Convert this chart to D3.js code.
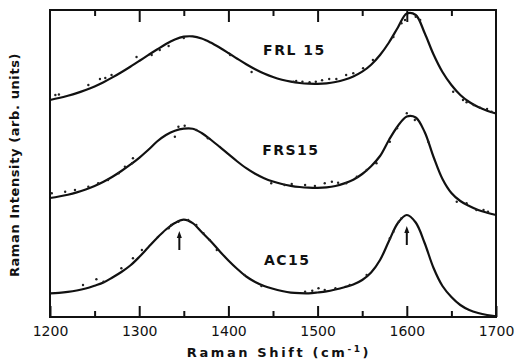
<!DOCTYPE html>
<html>
<head>
<meta charset="utf-8">
<script src="https://cdn.jsdelivr.net/npm/d3@7"></script>
<style>
  body { margin: 0; background: #fff; }
  svg { display: block; }
  text { font-family: "DejaVu Sans", sans-serif; font-weight: bold; fill: #111; }
</style>
</head>
<body>
<script>
//raman shift sample positions (cm-1)
var shift = [1200, 1210, 1220, 1230, 1240, 1250, 1260, 1270, 1280, 1290,
             1300, 1310, 1320, 1330, 1340, 1350, 1360, 1370, 1380, 1390,
             1400, 1410, 1420, 1430, 1440, 1450, 1460, 1470, 1480, 1490,
             1500, 1510, 1520, 1530, 1540, 1550, 1560, 1570, 1580, 1590,
             1600, 1610, 1620, 1630, 1640, 1650, 1660, 1670, 1680, 1690, 1700];

//fitted curves, intensity in arb. units (spectra stacked with offsets)
var frl15 = [217, 219, 221.3, 223.9, 227, 230.6, 234.8, 239.6, 244.8, 250.3,
             256, 261.8, 267.5, 273, 277.5, 280.3, 280.6, 278.5, 274.5, 269.5,
             264, 258.3, 252.8, 247.8, 243.5, 240, 237.3, 235.3, 234, 233.3,
             233.2, 233.7, 235, 237.2, 240.5, 245.3, 252.3, 262, 274.5, 289.5,
             303.5, 302, 284, 262.5, 245, 232, 222, 215, 210, 206.3, 203.5];
var frs15 = [119, 120.5, 122.3, 124.6, 127.5, 131, 135.2, 140.2, 146, 152.3,
             159.2, 167, 175.5, 182, 186.3, 188.3, 188.2, 184, 177.5, 170.3,
             162.8, 155.5, 148.8, 143.2, 138.8, 135.5, 133, 131.2, 130, 129.3,
             129.1, 129.6, 131, 133.6, 137.3, 143, 150.8, 161, 177, 191,
             200.5, 199.5, 185, 160, 138, 124, 116, 111, 107, 104.3, 102];
var ac15 = [23.7, 24.2, 25.1, 26.5, 28.5, 31.3, 34.5, 39.5, 45, 51.5,
            60, 69.5, 79, 87.5, 94, 97.3, 93.8, 85, 76, 66,
            56.5, 48, 40.5, 35, 31, 28.2, 26, 24.4, 23.8, 23.7,
            24.5, 25.6, 27.5, 29.8, 32.5, 37, 44.5, 57, 76, 94,
            102, 94.5, 74, 49, 31, 20, 12, 7, 4, 2, 0.7];

//measured points [shift, intensity]
var frl15Dots = [[1206, 222], [1210, 222.5], [1243, 232], [1256, 238], [1262, 239], [1269, 242],
                 [1297, 260], [1314, 262], [1323, 267], [1333, 271], [1350, 279],
                 [1402, 262], [1426, 245], [1473, 235.3], [1476, 236], [1483, 235.3],
                 [1491, 234.7], [1498, 235.3], [1505, 236.7], [1513, 238], [1521, 238],
                 [1532, 242], [1540, 243.7], [1551, 248.7], [1562, 257], [1585, 280],
                 [1594, 293.7], [1598, 297], [1610, 300.3], [1615, 297],
                 [1652, 225.3], [1663, 217], [1667, 214.7], [1675, 212], [1682, 209.3],
                 [1690, 208], [1695, 205.3]];
var frs15Dots = [[1202, 123.7], [1217, 125.3], [1228, 127], [1243, 130.3], [1254, 133.7],
                 [1265, 137], [1277, 143.7], [1284, 150.3], [1292, 153.7], [1293, 158.7],
                 [1340, 180.3], [1344, 190.3], [1351, 191.3], [1364, 187], [1377, 178.7],
                 [1448, 133.7], [1463, 132], [1471, 133], [1486, 132], [1497, 131],
                 [1508, 133.7], [1516, 135.3], [1523, 134.3], [1532, 133.7], [1544, 140.3],
                 [1555, 147], [1566, 153.7], [1581, 175.3], [1589, 188.7], [1600, 203.7],
                 [1609, 197], [1624, 175.3], [1656, 115.3], [1667, 113.7], [1678, 107],
                 [1686, 107], [1691, 105.3]];
var ac15Dots = [[1237, 32], [1252, 37.7], [1260, 35.3], [1280, 48.7], [1293, 58.7],
                [1303, 67], [1333, 88.7], [1336, 92], [1344, 95.3], [1355, 97],
                [1364, 92], [1372, 83.7], [1379, 77], [1387, 67], [1418, 42], [1437, 31],
                [1486, 25.3], [1494, 26.3], [1501, 28.7], [1508, 27], [1520, 28.7],
                [1536, 32], [1555, 42], [1581, 78.7], [1585, 85.3], [1591, 95.3], [1594, 98.7]];

//sample names and where they are written
var labels = ["FRL 15", "FRS15", "AC15"];
var labelPos = [[1474, 267], [1470, 167], [1466, 57]];

//arrows marking the peaks of AC15 [shift, tail, head]
var arrows = [[1345, 67, 86], [1600, 72, 91]];

//axis ticks
var majorTicks = [1200, 1300, 1400, 1500, 1600, 1700];
var minorTicks = [1250, 1350, 1450, 1550, 1650];

//chart frame
var width = 515,
    height = 360,
    margin = {top: 10, right: 19, bottom: 43, left: 50};
var innerW = width - margin.left - margin.right,
    innerH = height - margin.top - margin.bottom;

var svg = d3.select("body")
    .append("svg")
    .attr("width", width)
    .attr("height", height);

var g = svg.append("g")
    .attr("transform", "translate(" + margin.left + "," + margin.top + ")");

var x = d3.scaleLinear()
    .domain([1200, 1700])
    .range([0, innerW]);

var y = d3.scaleLinear()
    .domain([0, 307])
    .range([innerH, 0]);

//bottom ticks, pointing inward
var bottomMajor = g.append("g")
    .attr("transform", "translate(0," + innerH + ")")
    .call(d3.axisBottom(x).tickValues(majorTicks).tickFormat(d3.format("d"))
        .tickSizeInner(-11).tickSizeOuter(0).tickPadding(9));
var bottomMinor = g.append("g")
    .attr("transform", "translate(0," + innerH + ")")
    .call(d3.axisBottom(x).tickValues(minorTicks).tickSizeInner(-6).tickSizeOuter(0).tickFormat(""));

//top ticks, pointing inward
var topMajor = g.append("g")
    .call(d3.axisTop(x).tickValues(majorTicks.slice(1, 5)).tickSizeInner(-12).tickSizeOuter(0).tickFormat(""));
var topMinor = g.append("g")
    .call(d3.axisTop(x).tickValues(minorTicks).tickSizeInner(-6).tickSizeOuter(0).tickFormat(""));

g.selectAll(".domain").remove();
g.selectAll(".tick line").attr("stroke", "#111").attr("stroke-width", 2);
bottomMajor.selectAll("text")
    .style("font-size", "14px")
    .style("font-weight", "normal");

//frame
g.append("rect")
    .attr("x", 0)
    .attr("y", 0)
    .attr("width", innerW)
    .attr("height", innerH)
    .attr("fill", "none")
    .attr("stroke", "#111")
    .attr("stroke-width", 2);

//fitted curves
var line = d3.line()
    .x(function(d, i){ return x(shift[i]); })
    .y(function(d){ return y(d); })
    .curve(d3.curveCatmullRom.alpha(0.5));

var curves = [frl15, frs15, ac15];
g.selectAll(".fit")
    .data(curves)
    .enter()
    .append("path")
    .attr("class", "fit")
    .attr("d", line)
    .attr("fill", "none")
    .attr("stroke", "#111")
    .attr("stroke-width", 2.2);

//measured points
var dots = frl15Dots.concat(frs15Dots, ac15Dots);
g.selectAll(".dot")
    .data(dots)
    .enter()
    .append("circle")
    .attr("class", "dot")
    .attr("cx", function(d){ return x(d[0]); })
    .attr("cy", function(d){ return y(d[1]); })
    .attr("r", 1.2)
    .attr("fill", "#222");

//arrows
g.selectAll(".arrow")
    .data(arrows)
    .enter()
    .append("line")
    .attr("x1", function(d){ return x(d[0]); })
    .attr("x2", function(d){ return x(d[0]); })
    .attr("y1", function(d){ return y(d[1]); })
    .attr("y2", function(d){ return y(d[2]) + 4; })
    .attr("stroke", "#111")
    .attr("stroke-width", 2);
g.selectAll(".head")
    .data(arrows)
    .enter()
    .append("path")
    .attr("d", function(d){
        var ax = x(d[0]), ay = y(d[2]);
        return "M" + ax + "," + ay + "L" + (ax - 2.5) + "," + (ay + 7) + "L" + (ax + 2.5) + "," + (ay + 7) + "Z";
    })
    .attr("fill", "#111");

//sample labels
g.selectAll(".label")
    .data(labels)
    .enter()
    .append("text")
    .attr("x", function(d, i){ return x(labelPos[i][0]); })
    .attr("y", function(d, i){ return y(labelPos[i][1]); })
    .attr("dy", "0.35em")
    .attr("text-anchor", "middle")
    .attr("letter-spacing", "1.5")
    .style("font-size", "14px")
    .text(function(d){ return d; });

//axis titles
var xTitle = svg.append("text")
    .attr("x", 279)
    .attr("y", 357)
    .attr("text-anchor", "middle")
    .attr("letter-spacing", "2.6")
    .style("font-size", "13px");
xTitle.append("tspan").text("Raman Shift (cm");
xTitle.append("tspan").attr("dy", "-5").style("font-size", "9px").text("-1");
xTitle.append("tspan").attr("dy", "5").text(")");

svg.append("text")
    .attr("transform", "translate(19,165) rotate(-90)")
    .attr("text-anchor", "middle")
    .attr("letter-spacing", "0.6")
    .style("font-size", "13px")
    .text("Raman Intensity (arb. units)");
</script>
</body>
</html>
